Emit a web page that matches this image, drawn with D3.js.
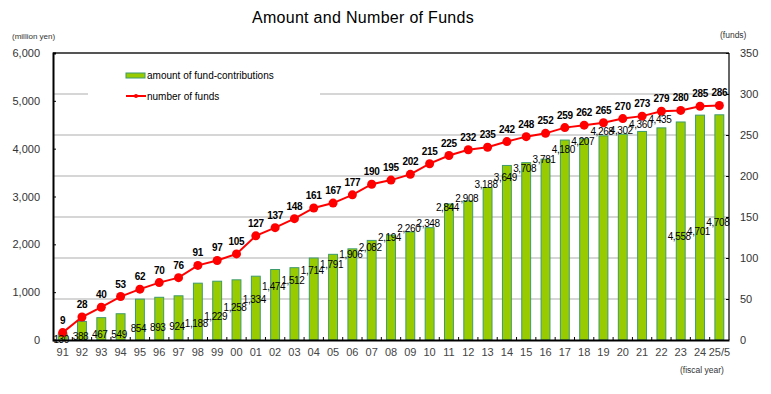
<!DOCTYPE html>
<html>
<head>
  <meta charset="utf-8">
  <script src="https://d3js.org/d3.v7.min.js"></script>
  <style type="text/css">
    * { font-family: "Liberation Sans", Arial, sans-serif }
    body { margin: 0; background: #fff; }
  </style>
</head>
<body>
<div id="my_dataviz"></div>
<script>

// data
var years = ["91","92","93","94","95","96","97","98","99","00","01","02","03","04","05","06","07","08","09","10","11","12","13","14","15","16","17","18","19","20","21","22","23","24","25/5"];
var amounts = [130,388,467,549,854,893,924,1188,1229,1258,1334,1474,1512,1714,1791,1906,2082,2194,2260,2348,2844,2908,3188,3649,3708,3781,4180,4207,4268,4302,4360,4435,4558,4701,4708];
var funds = [9,28,40,53,62,70,76,91,97,105,127,137,148,161,167,177,190,195,202,215,225,232,235,242,248,252,259,262,265,270,273,279,280,285,286];
var leftTicks = [0,1000,2000,3000,4000,5000,6000];
var rightTicks = [0,50,100,150,200,250,300,350];

// where the original put each amount label, relative to the bar top (px)
var amountLabelDy = [5,15,16,20,29,30,30,40,35,27,23,17,12,12,10,5,7,2,-4,-5,3,-3,-4,12,5,0,9,2,-5,-4,-7,-9,114,116,107];

var W = 771, H = 394;
var margin = {top: 53, right: 42, bottom: 54, left: 53},
    width = W - margin.left - margin.right,
    height = H - margin.top - margin.bottom;

var svg = d3.select("#my_dataviz")
  .append("svg")
    .attr("width", W)
    .attr("height", H);

// title
svg.append("text")
  .attr("x", 363).attr("y", 23)
  .attr("text-anchor", "middle")
  .style("font-size", "16px")
  .style("letter-spacing", "0.3px")
  .text("Amount and Number of Funds");

svg.append("text")
  .attr("x", 12).attr("y", 39)
  .style("font-size", "8px").style("fill", "#333")
  .text("(million yen)");
svg.append("text")
  .attr("x", 720).attr("y", 38)
  .style("font-size", "8.5px").style("fill", "#333")
  .text("(funds)");
svg.append("text")
  .attr("x", 680).attr("y", 373)
  .style("font-size", "8.5px").style("fill", "#333")
  .text("(fiscal year)");

var g = svg.append("g")
  .attr("transform", "translate(" + margin.left + "," + margin.top + ")");

// scales
var x = d3.scaleBand()
  .domain(years)
  .range([0, width])
  .paddingInner(0.54)
  .paddingOuter(0.27);

var yL = d3.scaleLinear().domain([0, 6000]).range([height, 0]);
var yR = d3.scaleLinear().domain([0, 350]).range([height, 0]);

// gridlines (on right axis ticks)
g.append("g")
  .selectAll("line")
  .data(rightTicks.filter(function(d) { return d > 0 && d < 350; }))
  .enter()
  .append("line")
    .attr("x1", 0).attr("x2", width)
    .attr("y1", function(d) { return yR(d); })
    .attr("y2", function(d) { return yR(d); })
    .attr("stroke", "#c8c8c8")
    .attr("stroke-width", 1.5);

// legend
var legend = g.append("g").attr("transform", "translate(35,10)");
legend.append("rect")
  .attr("x", 0).attr("y", 0).attr("width", 232).attr("height", 44)
  .attr("fill", "#fff");
legend.append("rect")
  .attr("x", 38).attr("y", 10).attr("width", 19).attr("height", 5)
  .attr("fill", "#99cc00").attr("stroke", "#3d9a6e").attr("stroke-width", 1);
legend.append("text")
  .attr("x", 59).attr("y", 16)
  .style("font-size", "10px")
  .text("amount of fund-contributions");
legend.append("line")
  .attr("x1", 38).attr("x2", 58).attr("y1", 33).attr("y2", 33)
  .attr("stroke", "#ff0000").attr("stroke-width", 2);
legend.append("circle")
  .attr("cx", 48).attr("cy", 33).attr("r", 2)
  .attr("fill", "#ff0000");
legend.append("text")
  .attr("x", 59).attr("y", 37)
  .style("font-size", "10px")
  .text("number of funds");

// bars
g.selectAll("rect.bar")
  .data(amounts)
  .enter()
  .append("rect")
    .attr("class", "bar")
    .attr("x", function(d, i) { return x(years[i]); })
    .attr("y", function(d) { return yL(d); })
    .attr("width", x.bandwidth())
    .attr("height", function(d) { return height - yL(d); })
    .attr("fill", "#99cc00")
    .attr("stroke", "#3d9a6e")
    .attr("stroke-width", 1);

// line
var line = d3.line()
  .x(function(d, i) { return x(years[i]) + x.bandwidth() / 2; })
  .y(function(d) { return yR(d); });

g.append("path")
  .datum(funds)
  .attr("d", line)
  .attr("fill", "none")
  .attr("stroke", "#ff0000")
  .attr("stroke-width", 2);

g.selectAll("circle.dot")
  .data(funds)
  .enter()
  .append("circle")
    .attr("class", "dot")
    .attr("cx", function(d, i) { return x(years[i]) + x.bandwidth() / 2; })
    .attr("cy", function(d) { return yR(d); })
    .attr("r", 4.5)
    .attr("fill", "#ff0000");

// axes frame
g.append("line")
  .attr("x1", 0).attr("x2", width).attr("y1", 0).attr("y2", 0)
  .attr("stroke", "#555").attr("stroke-width", 2);
g.append("line")
  .attr("x1", width).attr("x2", width).attr("y1", 0).attr("y2", height)
  .attr("stroke", "#333").attr("stroke-width", 1.5);

var fmt = d3.format(",");

// left axis
var leftAxis = g.append("g")
  .call(d3.axisLeft(yL).tickValues(leftTicks).tickFormat(fmt).tickSize(-3).tickPadding(13));
leftAxis.select(".domain").attr("stroke", "#000").attr("stroke-width", 2);
leftAxis.selectAll("text").style("font-size", "11px").style("fill", "#333");

// right axis
var rightAxis = g.append("g")
  .attr("transform", "translate(" + width + ",0)")
  .call(d3.axisRight(yR).tickValues(rightTicks).tickSize(-3).tickPadding(11));
rightAxis.select(".domain").remove();
rightAxis.selectAll("text").style("font-size", "11px").style("fill", "#333");

// bottom axis
var bottom = g.append("g")
  .attr("transform", "translate(0," + height + ")")
  .call(d3.axisBottom(x).tickSize(0).tickPadding(8));
bottom.select(".domain").attr("stroke", "#000").attr("stroke-width", 2);
bottom.selectAll("text").style("font-size", "11px").style("fill", "#444");

// small ticks between categories
g.append("g")
  .selectAll("line")
  .data(years.slice(1))
  .enter()
  .append("line")
    .attr("x1", function(d) { return x(d) - x.step() * x.paddingInner() / 2; })
    .attr("x2", function(d) { return x(d) - x.step() * x.paddingInner() / 2; })
    .attr("y1", height).attr("y2", height - 3)
    .attr("stroke", "#000");

// amount labels
g.selectAll("text.amt")
  .data(amounts)
  .enter()
  .append("text")
    .attr("class", "amt")
    .attr("x", function(d, i) { return x(years[i]) + x.bandwidth() / 2 - 1.5; })
    .attr("y", function(d, i) { return yL(d) + amountLabelDy[i] + 4; })
    .attr("text-anchor", "middle")
    .style("font-size", "10px")
    .style("letter-spacing", "-0.4px")
    .text(function(d) { return fmt(d); });

// fund labels
g.selectAll("text.fund")
  .data(funds)
  .enter()
  .append("text")
    .attr("class", "fund")
    .attr("x", function(d, i) { return x(years[i]) + x.bandwidth() / 2; })
    .attr("y", function(d) { return yR(d) - 9; })
    .attr("text-anchor", "middle")
    .style("font-size", "10px")
    .style("font-weight", "bold")
    .style("letter-spacing", "-0.3px")
    .text(function(d) { return d; });

</script>
</body>
</html>
